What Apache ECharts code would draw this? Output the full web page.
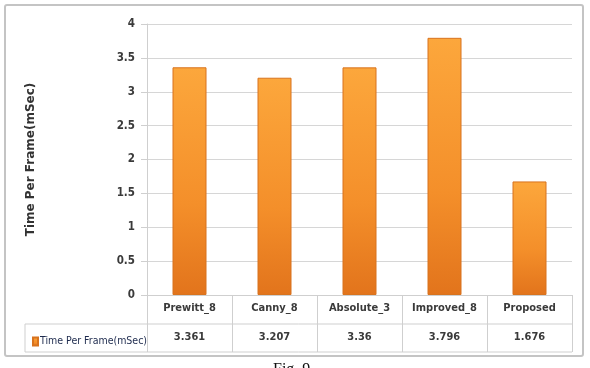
<!DOCTYPE html>
<html>
<head>
<meta charset="utf-8">
<style>
  html, body { margin: 0; padding: 0; background: #fff; }
  #chart { width: 590px; height: 368px; }
</style>
<script src="https://cdn.jsdelivr.net/npm/echarts@6/dist/echarts.min.js"></script>
</head>
<body>
<div id="chart"></div>
<script>
// data
var methods = ['Prewitt_8', 'Canny_8', 'Absolute_3', 'Improved_8', 'Proposed']
var timePerFrame = [3.361, 3.207, 3.36, 3.796, 1.676]
var seriesName = 'Time Per Frame(mSec)'
var yTicks = [0, 0.5, 1, 1.5, 2, 2.5, 3, 3.5, 4]

var font = "'DejaVu Sans Condensed', 'Liberation Sans Narrow', sans-serif"
var lineColor = '#cfcfcf'

// plot / table layout
var gl = 147, gr = 572, gt = 24, gb = 295
var row1 = 324, row2 = 352, tableLeft = 25

var chart = echarts.init(document.getElementById('chart'))
chart.setOption({
  backgroundColor: '#fff',
  animation: false,
  grid: { left: gl, right: 590 - gr, top: gt, bottom: 368 - gb },
  legend: {
    left: tableLeft + 2,
    top: row1 + 7,
    itemWidth: 5,
    itemHeight: 8,
    itemGap: 0,
    icon: 'rect',
    textStyle: { fontFamily: font, fontSize: 10.5, color: '#1d2a4d', padding: [0, 0, 0, -3] },
    data: [seriesName]
  },
  xAxis: [{
    type: 'category',
    data: methods,
    position: 'bottom',
    axisLine: { show: true, lineStyle: { color: lineColor } },
    axisTick: { show: true, length: row2 - gb, lineStyle: { color: lineColor } },
    axisLabel: { margin: 8, fontFamily: font, fontSize: 11, fontWeight: 'bold', color: '#3a3a3a' }
  }, {
    type: 'category',
    data: timePerFrame.map(String),
    position: 'bottom',
    offset: row1 - gb,
    axisLine: { show: false },
    axisTick: { show: false },
    axisLabel: { margin: 8, fontFamily: font, fontSize: 11, fontWeight: 'bold', color: '#3a3a3a' }
  }],
  yAxis: {
    type: 'value',
    min: yTicks[0],
    max: yTicks[yTicks.length - 1],
    interval: 0.5,
    name: seriesName,
    nameLocation: 'middle',
    nameRotate: 90,
    nameGap: 110,
    nameTextStyle: { fontFamily: "'DejaVu Sans', sans-serif", fontSize: 12, fontWeight: 'bold', color: '#333' },
    axisLine: { show: true, lineStyle: { color: lineColor } },
    axisTick: { show: true, length: 6, lineStyle: { color: lineColor } },
    splitLine: { lineStyle: { color: '#d6d6d6' } },
    axisLabel: { margin: 12, fontFamily: font, fontSize: 11.5, fontWeight: 'bold', color: '#3a3a3a' }
  },
  series: [{
    name: seriesName,
    type: 'bar',
    data: timePerFrame,
    barWidth: 34,
    itemStyle: {
      color: new echarts.graphic.LinearGradient(0, 0, 0, 1, [
        { offset: 0, color: '#fca73c' },
        { offset: 0.6, color: '#f48f2a' },
        { offset: 1, color: '#e2741c' }
      ]),
      borderColor: '#d8731e',
      borderWidth: 1
    }
  }],
  graphic: [
    {
      type: 'rect',
      shape: { x: 5, y: 5, width: 578, height: 351, r: 2 },
      style: { fill: 'none', stroke: '#c4c4c4', lineWidth: 2 },
      z: 0
    },
    {
      type: 'line',
      shape: { x1: tableLeft, y1: row1, x2: gr, y2: row1 },
      style: { stroke: lineColor, lineWidth: 1 }
    },
    {
      type: 'line',
      shape: { x1: tableLeft, y1: row2, x2: gr, y2: row2 },
      style: { stroke: lineColor, lineWidth: 1 }
    },
    {
      type: 'line',
      shape: { x1: tableLeft, y1: row1, x2: tableLeft, y2: row2 },
      style: { stroke: lineColor, lineWidth: 1 }
    },
    {
      type: 'text',
      left: 273,
      top: 362,
      style: { text: 'Fig. 9', font: "16px 'Liberation Serif', serif", fill: '#111' }
    }
  ]
})
</script>
</body>
</html>
